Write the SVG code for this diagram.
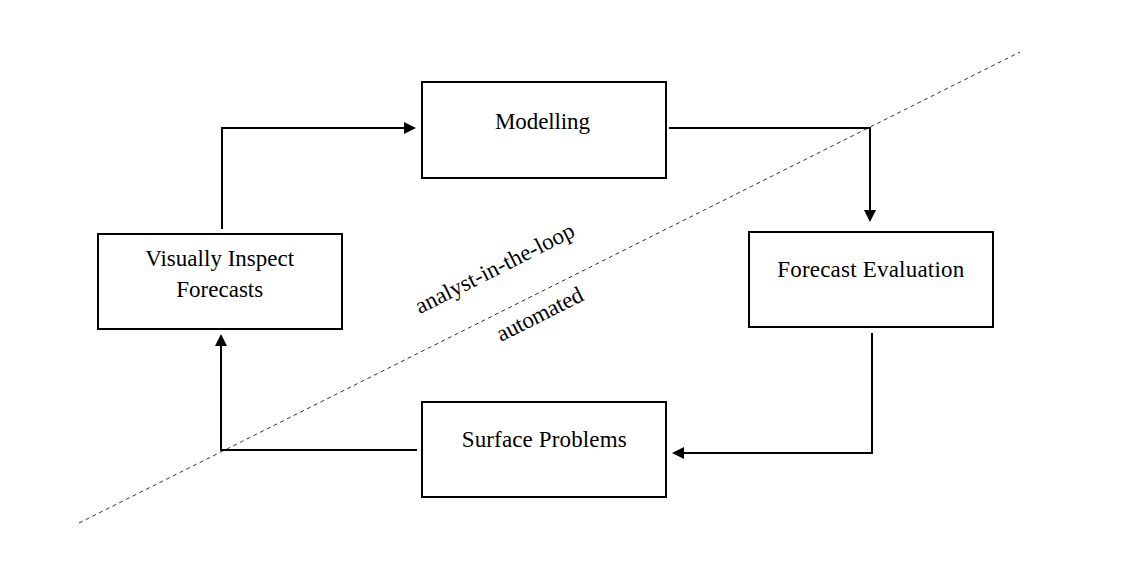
<svg xmlns="http://www.w3.org/2000/svg" width="1129" height="579" viewBox="0 0 1129 579">
<style>
.box{fill:#fff;stroke:#000;stroke-width:2}
.lbl{font-family:"Liberation Serif","Times New Roman",serif;font-size:23px;fill:#000;text-anchor:middle}
.conn{fill:none;stroke:#000;stroke-width:2}
.div{stroke:#333;stroke-width:1;stroke-dasharray:4 3.5;fill:none}
</style>
<defs>
<marker id="arr" markerUnits="userSpaceOnUse" markerWidth="13" markerHeight="12" refX="0" refY="6" orient="auto">
<path d="M0,0 L12,6 L0,12 z" fill="#000"/>
</marker>
</defs>
<rect width="1129" height="579" fill="#fff"/>
<line class="div" x1="79" y1="523" x2="1020" y2="52"/>
<g id="connectors">
<path class="conn" d="M222,229 V128 H404" marker-end="url(#arr)"/>
<path class="conn" d="M669,128 H870 V210" marker-end="url(#arr)"/>
<path class="conn" d="M872,333 V453 H684" marker-end="url(#arr)"/>
<path class="conn" d="M417,450 H221 V346" marker-end="url(#arr)"/>
</g>
<g id="modelling">
<rect class="box" x="422" y="82" width="244" height="96"/>
<text class="lbl" x="542.5" y="129" textLength="95" lengthAdjust="spacing">Modelling</text>
</g>
<g id="visually-inspect">
<rect class="box" x="98" y="234" width="244" height="95"/>
<text class="lbl" x="219.7" y="266" textLength="149" lengthAdjust="spacing">Visually Inspect</text>
<text class="lbl" x="219.7" y="296.5" textLength="87" lengthAdjust="spacing">Forecasts</text>
</g>
<g id="forecast-evaluation">
<rect class="box" x="749" y="232" width="244" height="95"/>
<text class="lbl" x="870.7" y="277.3" textLength="187" lengthAdjust="spacing">Forecast Evaluation</text>
</g>
<g id="surface-problems">
<rect class="box" x="422" y="402" width="244" height="95"/>
<text class="lbl" x="544.2" y="446.7" textLength="165" lengthAdjust="spacing">Surface Problems</text>
</g>
<g id="region-labels">
<text class="lbl" transform="translate(498,275) rotate(-26.7)" textLength="175" lengthAdjust="spacing">analyst-in-the-loop</text>
<text class="lbl" transform="translate(543,321) rotate(-26.7)" textLength="94" lengthAdjust="spacing">automated</text>
</g>
</svg>
